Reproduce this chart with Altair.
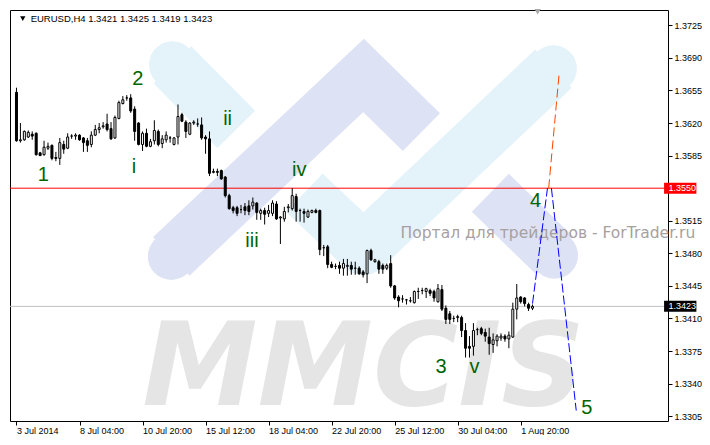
import json
import altair as alt
import pandas as pd

# ---------------- data (EURUSD, H4) ----------------
bar_open = [1.3653, 1.3601, 1.3602, 1.3605, 1.3608, 1.3609, 1.3588, 1.3586, 1.3593, 1.3596,
            1.3583, 1.3582, 1.3597, 1.3593, 1.3606, 1.3606, 1.3607, 1.3604, 1.3601, 1.3597,
            1.3607, 1.3613, 1.3616, 1.3619, 1.3614, 1.3604, 1.3625, 1.3641, 1.3647, 1.3647,
            1.3635, 1.3620, 1.3597, 1.3609, 1.3595, 1.3601, 1.3611, 1.3598, 1.3602, 1.3604,
            1.3597, 1.3605, 1.3629, 1.3621, 1.3608, 1.3620, 1.3619, 1.3618, 1.3605, 1.3603,
            1.3567, 1.3568, 1.3569, 1.3562, 1.3542, 1.3529, 1.3529, 1.3527, 1.3530, 1.3531,
            1.3531, 1.3534, 1.3523, 1.3526, 1.3523, 1.3523, 1.3533, 1.3518, 1.3517, 1.3529,
            1.3528, 1.3541, 1.3526, 1.3525, 1.3519, 1.3524, 1.3526, 1.3526, 1.3486, 1.3487,
            1.3468, 1.3466, 1.3467, 1.3464, 1.3466, 1.3467, 1.3464, 1.3464, 1.3460, 1.3458,
            1.3483, 1.3471, 1.3471, 1.3467, 1.3464, 1.3469, 1.3445, 1.3433, 1.3431, 1.3430,
            1.3429, 1.3427, 1.3439, 1.3440, 1.3439, 1.3440, 1.3439, 1.3428, 1.3441, 1.3421,
            1.3415, 1.3410, 1.3411, 1.3411, 1.3397, 1.3380, 1.3380, 1.3398, 1.3399, 1.3395,
            1.3390, 1.3382, 1.3386, 1.3389, 1.3391, 1.3388, 1.3390, 1.3420, 1.3433, 1.3432,
            1.3425, 1.3421]
bar_high = [1.3658, 1.3620, 1.3612, 1.3612, 1.3611, 1.3610, 1.3589, 1.3601, 1.3599, 1.3597,
            1.3589, 1.3604, 1.3601, 1.3609, 1.3608, 1.3609, 1.3608, 1.3605, 1.3604, 1.3611,
            1.3618, 1.3620, 1.3621, 1.3630, 1.3621, 1.3628, 1.3644, 1.3649, 1.3650, 1.3651,
            1.3638, 1.3621, 1.3611, 1.3614, 1.3603, 1.3623, 1.3613, 1.3607, 1.3611, 1.3606,
            1.3605, 1.3640, 1.3631, 1.3623, 1.3621, 1.3623, 1.3625, 1.3626, 1.3607, 1.3611,
            1.3571, 1.3571, 1.3570, 1.3563, 1.3544, 1.3531, 1.3531, 1.3532, 1.3534, 1.3537,
            1.3540, 1.3535, 1.3528, 1.3529, 1.3532, 1.3537, 1.3536, 1.3520, 1.3530, 1.3533,
            1.3550, 1.3544, 1.3528, 1.3528, 1.3527, 1.3527, 1.3528, 1.3527, 1.3489, 1.3489,
            1.3471, 1.3469, 1.3471, 1.3474, 1.3474, 1.3471, 1.3471, 1.3466, 1.3462, 1.3484,
            1.3485, 1.3474, 1.3473, 1.3469, 1.3469, 1.3478, 1.3446, 1.3435, 1.3435, 1.3431,
            1.3433, 1.3440, 1.3443, 1.3443, 1.3443, 1.3442, 1.3441, 1.3447, 1.3446, 1.3424,
            1.3418, 1.3413, 1.3414, 1.3413, 1.3405, 1.3391, 1.3405, 1.3400, 1.3401, 1.3399,
            1.3400, 1.3394, 1.3393, 1.3394, 1.3393, 1.3396, 1.3427, 1.3447, 1.3434, 1.3433,
            1.3427, 1.3425]
bar_low = [1.3600, 1.3599, 1.3601, 1.3604, 1.3602, 1.3585, 1.3585, 1.3585, 1.3591, 1.3580,
           1.3579, 1.3575, 1.3587, 1.3592, 1.3603, 1.3602, 1.3601, 1.3589, 1.3589, 1.3594,
           1.3606, 1.3609, 1.3614, 1.3611, 1.3602, 1.3603, 1.3624, 1.3640, 1.3644, 1.3631,
           1.3601, 1.3596, 1.3590, 1.3594, 1.3594, 1.3597, 1.3595, 1.3593, 1.3599, 1.3599,
           1.3596, 1.3597, 1.3621, 1.3604, 1.3607, 1.3618, 1.3616, 1.3602, 1.3587, 1.3563,
           1.3566, 1.3563, 1.3559, 1.3540, 1.3527, 1.3523, 1.3520, 1.3523, 1.3521, 1.3521,
           1.3527, 1.3516, 1.3516, 1.3511, 1.3519, 1.3520, 1.3516, 1.3490, 1.3514, 1.3524,
           1.3526, 1.3514, 1.3514, 1.3513, 1.3518, 1.3523, 1.3523, 1.3478, 1.3477, 1.3464,
           1.3464, 1.3463, 1.3458, 1.3456, 1.3456, 1.3457, 1.3457, 1.3457, 1.3454, 1.3448,
           1.3472, 1.3470, 1.3458, 1.3458, 1.3462, 1.3443, 1.3430, 1.3422, 1.3427, 1.3425,
           1.3427, 1.3426, 1.3431, 1.3436, 1.3432, 1.3434, 1.3428, 1.3427, 1.3418, 1.3404,
           1.3404, 1.3406, 1.3406, 1.3390, 1.3368, 1.3368, 1.3370, 1.3392, 1.3392, 1.3385,
           1.3371, 1.3373, 1.3380, 1.3386, 1.3385, 1.3378, 1.3389, 1.3409, 1.3426, 1.3423,
           1.3418, 1.3419]
bar_close = [1.3601, 1.3602, 1.3611, 1.3610, 1.3606, 1.3586, 1.3585, 1.3594, 1.3595, 1.3582,
             1.3582, 1.3599, 1.3592, 1.3605, 1.3606, 1.3607, 1.3602, 1.3599, 1.3596, 1.3607,
             1.3613, 1.3615, 1.3617, 1.3613, 1.3603, 1.3626, 1.3642, 1.3645, 1.3647, 1.3633,
             1.3611, 1.3597, 1.3609, 1.3595, 1.3600, 1.3612, 1.3597, 1.3603, 1.3607, 1.3604,
             1.3604, 1.3627, 1.3622, 1.3611, 1.3620, 1.3621, 1.3619, 1.3604, 1.3603, 1.3566,
             1.3568, 1.3567, 1.3560, 1.3542, 1.3528, 1.3526, 1.3523, 1.3527, 1.3526, 1.3525,
             1.3535, 1.3524, 1.3526, 1.3522, 1.3526, 1.3534, 1.3517, 1.3519, 1.3525, 1.3530,
             1.3542, 1.3525, 1.3526, 1.3523, 1.3525, 1.3526, 1.3524, 1.3484, 1.3486, 1.3468,
             1.3465, 1.3466, 1.3464, 1.3469, 1.3467, 1.3463, 1.3464, 1.3458, 1.3457, 1.3483,
             1.3473, 1.3473, 1.3463, 1.3463, 1.3467, 1.3445, 1.3432, 1.3429, 1.3431, 1.3430,
             1.3429, 1.3439, 1.3439, 1.3440, 1.3442, 1.3437, 1.3432, 1.3442, 1.3420, 1.3409,
             1.3409, 1.3410, 1.3412, 1.3397, 1.3378, 1.3378, 1.3397, 1.3398, 1.3394, 1.3391,
             1.3383, 1.3387, 1.3391, 1.3391, 1.3388, 1.3392, 1.3420, 1.3432, 1.3428, 1.3426,
             1.3421, 1.3423]

x_tick_bars = [0, 16, 32, 48, 64, 80, 96, 112, 128]
x_tick_labels = ["3 Jul 2014", "8 Jul 04:00", "10 Jul 20:00", "15 Jul 12:00", "18 Jul 04:00",
                 "22 Jul 20:00", "25 Jul 12:00", "30 Jul 04:00", "1 Aug 20:00"]
# 1.3550 is hidden under the red level box, so it is not listed here
y_tick_values = [1.3305, 1.3340, 1.3375, 1.3410, 1.3445, 1.3480, 1.3515,
                 1.3585, 1.3620, 1.3655, 1.3690, 1.3725]

level_price = 1.3550
bid_price = 1.3423

wave_text = ["1", "2", "3", "4", "5", "i", "ii", "iii", "iv", "v"]
wave_bar = [6.8, 30.8, 107.8, 131.8, 144.8, 29.8, 53.6, 59.8, 71.8, 116.3]
wave_price = [1.35646, 1.36671, 1.33578, 1.35357, 1.33143, 1.35729, 1.36246, 1.34933, 1.35698, 1.33578]

blue_seg = ["a", "a", "b", "b"]
blue_bar = [131.0, 134.8, 135.8, 142.1]
blue_price = [1.3426, 1.3550, 1.3550, 1.3311]
orange_bar = [135.1, 137.8]
orange_price = [1.3550, 1.3675]

header_text = "EURUSD,H4  1.3421 1.3425 1.3419 1.3423"
watermark_text = "MMCIS"
portal_text = "Портал для трейдеров - ForTrader.ru"

# watermark logo bands (bar index, price)
band_id = ["L1", "L1", "V1", "V1", "V1", "L2", "L2", "L2", "V2", "V2"]
band_bar = [39.6, 55.8, 39.3, 88.1, 102.8, 73.1, 88.1, 136.3, 120.3, 136.6]
band_price = [1.36826, 1.36133, 1.34767, 1.36712, 1.36102, 1.35450, 1.34850, 1.36784, 1.35450, 1.34778]
cap_id = ["L1", "V1", "L2", "V2"]
cap_bar = [39.6, 39.3, 136.3, 136.6]
cap_price = [1.36826, 1.34767, 1.36784, 1.34778]

# ---------------- styling ----------------
FONT = "Liberation Sans"
LIGHT = "#e4f2fa"
LAV = "#dde2f5"
band_colors = {"L1": LIGHT, "V1": LAV, "L2": LIGHT, "V2": LAV}
band_join = {"L1": "miter", "V1": "miter", "L2": "round", "V2": "miter"}

xscale = alt.Scale(domain=[-0.375, 164.125], nice=False, zero=False)
yscale = alt.Scale(domain=[1.32998, 1.37415], nice=False, zero=False)

label_expr = ("[" + ",".join("'" + t + "'" for t in x_tick_labels) + "][indexof("
              + json.dumps(x_tick_bars) + ", datum.value)]")

xaxis = alt.Axis(values=x_tick_bars, labelExpr=label_expr, title=None, orient="bottom",
                 tickSize=4, labelPadding=1, labelAlign="left", labelFlush=False,
                 labelOverlap=False, domain=False, grid=False, labelFont=FONT,
                 labelFontSize=9, labelColor="black", tickColor="black", zindex=1)
yaxis = alt.Axis(values=y_tick_values, format=".4f", title=None, orient="right",
                 tickSize=4, labelPadding=2, labelFlush=False, labelOverlap=False,
                 domain=False, grid=False, labelFont=FONT, labelFontSize=9,
                 labelColor="black", tickColor="black", zindex=1)


def X(field):
    return alt.X(field, type="quantitative", scale=xscale, axis=xaxis)


def Y(field):
    return alt.Y(field, type="quantitative", scale=yscale, axis=yaxis)


n = len(bar_open)
candles = pd.DataFrame({
    "bar": list(range(n)), "open": bar_open, "high": bar_high,
    "low": bar_low, "close": bar_close,
})
candles["dir"] = ["up" if c >= o else "down" for o, c in zip(bar_open, bar_close)]

layers = []

# watermark bands
bands = pd.DataFrame({"id": band_id, "bar": band_bar, "price": band_price,
                      "order": list(range(len(band_id)))})
caps = pd.DataFrame({"id": cap_id, "bar": cap_bar, "price": cap_price})
for bid in ["L1", "V1", "L2", "V2"]:
    layers.append(
        alt.Chart(bands[bands["id"] == bid]).mark_line(
            color=band_colors[bid], strokeWidth=53, strokeCap="butt",
            strokeJoin=band_join[bid], strokeMiterLimit=4, clip=True
        ).encode(x=X("bar"), y=Y("price"), order="order:Q")
    )
    layers.append(
        alt.Chart(caps[caps["id"] == bid]).mark_circle(
            size=2206, opacity=1, color=band_colors[bid], clip=True
        ).encode(x=X("bar"), y=Y("price"))
    )

# watermark texts
layers.append(
    alt.Chart(pd.DataFrame({"t": [watermark_text], "bar": [88.1], "price": [1.33174]}))
    .mark_text(font="DejaVu Sans", fontSize=116, fontWeight="bold", fontStyle="italic",
               color="#e5e5e5", align="center", baseline="alphabetic", clip=True)
    .encode(x=X("bar"), y=Y("price"), text="t:N")
)
layers.append(
    alt.Chart(pd.DataFrame({"t": [portal_text], "bar": [172.3], "price": [1.34964]}))
    .mark_text(font="DejaVu Sans", fontSize=15.5, color="#a89f9f", align="right",
               baseline="alphabetic", clip=False)
    .encode(x=X("bar"), y=Y("price"), text="t:N")
)

# horizontal price lines
layers.append(
    alt.Chart(pd.DataFrame({"price": [level_price]})).mark_rule(
        strokeWidth=1, color="#ff0000").encode(y=Y("price"))
)
layers.append(
    alt.Chart(pd.DataFrame({"price": [bid_price]})).mark_rule(
        strokeWidth=1, color="#c0c0c0").encode(y=Y("price"))
)

# candles
layers.append(
    alt.Chart(candles).mark_rule(color="black", strokeWidth=1).encode(
        x=X("bar"), y=Y("low"), y2="high"
    )
)
layers.append(
    alt.Chart(candles[candles["dir"] == "up"]).mark_bar(
        size=2, stroke="black", strokeWidth=1, fill="white").encode(
        x=X("bar"), y=Y("open"), y2="close"
    )
)
layers.append(
    alt.Chart(candles[candles["dir"] == "down"]).mark_bar(
        size=2, stroke="black", strokeWidth=1, fill="black").encode(
        x=X("bar"), y=Y("open"), y2="close"
    )
)

# projected wave lines
blue = pd.DataFrame({"seg": blue_seg, "bar": blue_bar, "price": blue_price})
layers.append(
    alt.Chart(blue).mark_line(color="#0000ff", strokeWidth=1, strokeDash=[9, 3]).encode(
        x=X("bar"), y=Y("price"), detail="seg:N"
    )
)
orange = pd.DataFrame({"bar": orange_bar, "price": orange_price})
layers.append(
    alt.Chart(orange).mark_line(color="#ff4500", strokeWidth=1, strokeDash=[9, 4]).encode(
        x=X("bar"), y=Y("price")
    )
)

# wave labels
waves = pd.DataFrame({"t": wave_text, "bar": wave_bar, "price": wave_price})
layers.append(
    alt.Chart(waves).mark_text(font=FONT, fontSize=20, color="#006400",
                               align="center", baseline="middle").encode(
        x=X("bar"), y=Y("price"), text="t:N"
    )
)

# header
layers.append(
    alt.Chart(pd.DataFrame({"bar": [1.6], "price": [1.37322]})).mark_point(
        shape="triangle-down", filled=True, size=28, color="black", opacity=1
    ).encode(x=X("bar"), y=Y("price"))
)
layers.append(
    alt.Chart(pd.DataFrame({"t": [header_text], "bar": [3.6], "price": [1.37291]})).mark_text(
        font=FONT, fontSize=9.5, color="black", align="left", baseline="alphabetic"
    ).encode(x=X("bar"), y=Y("price"), text="t:N")
)
# chart shift marker
layers.append(
    alt.Chart(pd.DataFrame({"bar": [132.3], "price": [1.37395]})).mark_point(
        shape="triangle-down", filled=True, size=40, color="#a8a8a8", opacity=1
    ).encode(x=X("bar"), y=Y("price"))
)

# price boxes on the right axis
box_prices = [level_price, bid_price]
box_colors = ["#ff0000", "#000000"]
for p, c in zip(box_prices, box_colors):
    bdf = pd.DataFrame({"price": [p], "lo": [p - 0.00059], "hi": [p + 0.00059],
                        "x0": [164.4], "x1": [172.6], "xt": [165.5],
                        "label": ["%.4f" % p]})
    layers.append(
        alt.Chart(bdf).mark_rect(clip=False, color=c).encode(
            x=X("x0"), x2="x1", y=Y("lo"), y2="hi"
        )
    )
    layers.append(
        alt.Chart(bdf).mark_text(font=FONT, fontSize=9, color="white", align="left",
                                 baseline="middle", clip=False).encode(
            x=X("xt"), y=Y("price"), text="label:N"
        )
    )

chart = alt.layer(*layers).properties(
    width=658, height=411,
    padding={"left": 1, "top": 1, "right": 0, "bottom": 0},
    background="white",
).configure_view(stroke="black", strokeWidth=1, fill="white")

chart.save("out.html", embed_options={"renderer": "svg", "actions": False})
